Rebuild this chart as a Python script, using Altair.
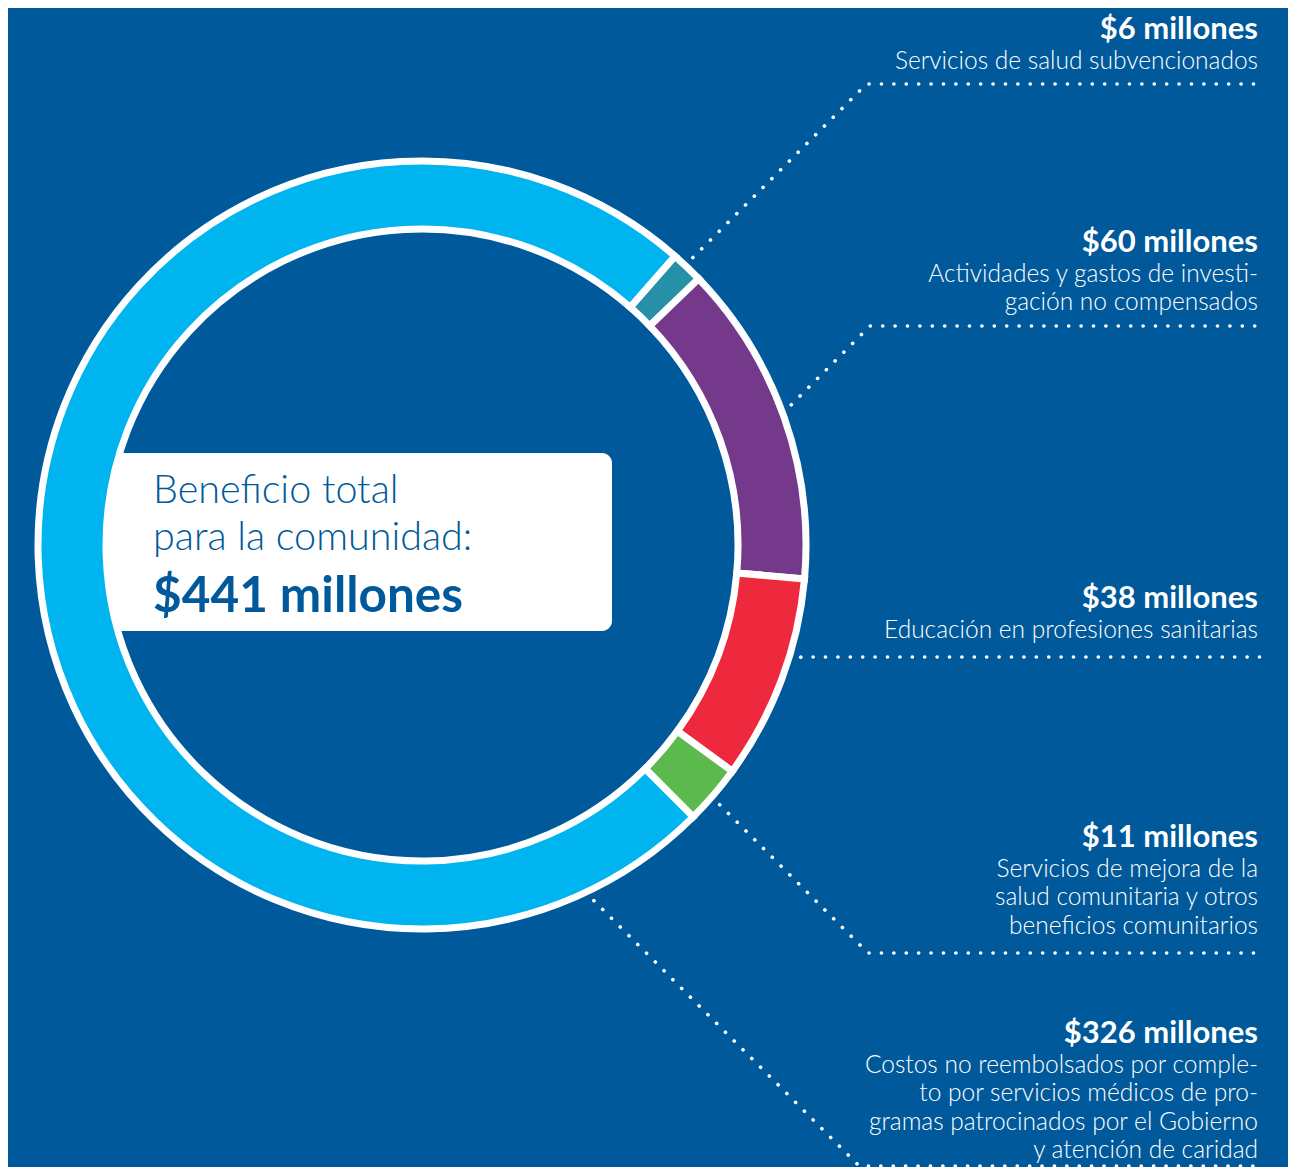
import math
import altair as alt
import pandas as pd

# ---------------- data ----------------
categories = [
    "Servicios de salud subvencionados",
    "Actividades y gastos de investigación no compensados",
    "Educación en profesiones sanitarias",
    "Servicios de mejora de la salud comunitaria y otros beneficios comunitarios",
    "Costos no reembolsados por servicios médicos y atención de caridad",
]
values = [6, 60, 38, 11, 326]  # millones
value_labels = ["$6 millones", "$60 millones", "$38 millones", "$11 millones", "$326 millones"]
descriptions = [
    ["Servicios de salud subvencionados"],
    ["Actividades y gastos de investi-", "gación no compensados"],
    ["Educación en profesiones sanitarias"],
    ["Servicios de mejora de la", "salud comunitaria y otros", "beneficios comunitarios"],
    ["Costos no reembolsados por comple-", "to por servicios médicos de pro-",
     "gramas patrocinados por el Gobierno", "y atención de caridad"],
]
total_lines = ["Beneficio total", "para la comunidad:"]
total_value = "$441 millones"

# ---------------- styles / layout ----------------
colors = ["#2590A8", "#74398B", "#EE293D", "#5BB94E", "#00B4EF"]
BG = "#00599A"
W, H = 1280, 1159
M = 8  # page margin; scales below map page pixels directly
CX, CY = 422, 545
R_OUT, R_IN = 384, 316
START = math.radians(41.2)

label_x = 1258
label_base = [39, 252, 608, 847, 1043]
desc_gap = 29.5
desc_step = 28.5
leader_y = [84, 326, 657, 953, 1166]
leader_ang = [43.3, 69.2, 106.5, 131.1, 154.2]
leader_r = 395

box = dict(x=100, x2=612, y=453, y2=631)
center_x = 153
center_base = [503, 550]
center_value_base = 612

xs = alt.Scale(domain=[M, M + W], nice=False, zero=False)
ys = alt.Scale(domain=[M + H, M], nice=False, zero=False)

def X(f="x"):
    return alt.X(f"{f}:Q", scale=xs, axis=None)

def Y(f="y"):
    return alt.Y(f"{f}:Q", scale=ys, axis=None)

# ---------------- tables ----------------
arc_df = pd.DataFrame({"category": categories, "value": values,
                       "ord": list(range(len(values))), "color": colors})

rows = []
for i in range(len(values)):
    a = math.radians(leader_ang[i])
    sx = CX + leader_r * math.sin(a)
    sy = CY - leader_r * math.cos(a)
    ly = leader_y[i]
    kx = sx + abs(ly - sy)
    rows += [dict(id=i, o=0, x=sx, y=sy), dict(id=i, o=1, x=kx, y=ly),
             dict(id=i, o=2, x=label_x + 2, y=ly)]
line_df = pd.DataFrame(rows)

bold_df = pd.DataFrame({"text": value_labels, "x": label_x, "y": label_base})
drows = []
for i, lines in enumerate(descriptions):
    for j, t in enumerate(lines):
        drows.append(dict(text=t, x=label_x, y=label_base[i] + desc_gap + j * desc_step))
desc_df = pd.DataFrame(drows)

box_df = pd.DataFrame([box])
ctext_df = pd.DataFrame({"text": total_lines, "x": center_x, "y": center_base})
cval_df = pd.DataFrame({"text": [total_value], "x": [center_x], "y": [center_value_base]})

# ---------------- layers ----------------
box_layer = alt.Chart(box_df).mark_rect(color="white", cornerRadius=10).encode(
    x=X("x"), x2="x2:Q", y=Y("y"), y2="y2:Q")

arc_layer = alt.Chart(arc_df).mark_arc(
    outerRadius=R_OUT, innerRadius=R_IN, stroke="white", strokeWidth=7
).encode(
    theta=alt.Theta("value:Q", stack=True,
                    scale=alt.Scale(range=[START, START + 2 * math.pi])),
    order=alt.Order("ord:Q"),
    color=alt.Color("color:N", scale=None),
    x=alt.value(CX - M), y=alt.value(CY - M),
)

line_layer = alt.Chart(line_df).mark_line(
    color="white", strokeWidth=3.6, strokeCap="round", strokeDash=[0.1, 12.3]
).encode(x=X(), y=Y(), detail="id:N", order="o:Q")

bold_layer = alt.Chart(bold_df).mark_text(
    font="Lato", fontWeight="bold", fontSize=31, color="white",
    align="right", baseline="alphabetic"
).encode(x=X(), y=Y(), text="text:N")

desc_layer = alt.Chart(desc_df).mark_text(
    font="Lato", fontWeight=300, fontSize=24.5, color="white",
    align="right", baseline="alphabetic"
).encode(x=X(), y=Y(), text="text:N")

ctext_layer = alt.Chart(ctext_df).mark_text(
    font="Lato", fontWeight=300, fontSize=39.5, color=BG,
    align="left", baseline="alphabetic"
).encode(x=X(), y=Y(), text="text:N")

cval_layer = alt.Chart(cval_df).mark_text(
    font="Lato", fontWeight="bold", fontSize=49.5, color=BG,
    align="left", baseline="alphabetic"
).encode(x=X(), y=Y(), text="text:N")

chart = alt.layer(
    box_layer, arc_layer, line_layer, bold_layer, desc_layer, ctext_layer, cval_layer
).properties(
    width=W, height=H, background=BG, padding=0, autosize="none"
).configure_view(stroke=None)

chart.save("out.html", embed_options={"renderer": "svg", "actions": False})
